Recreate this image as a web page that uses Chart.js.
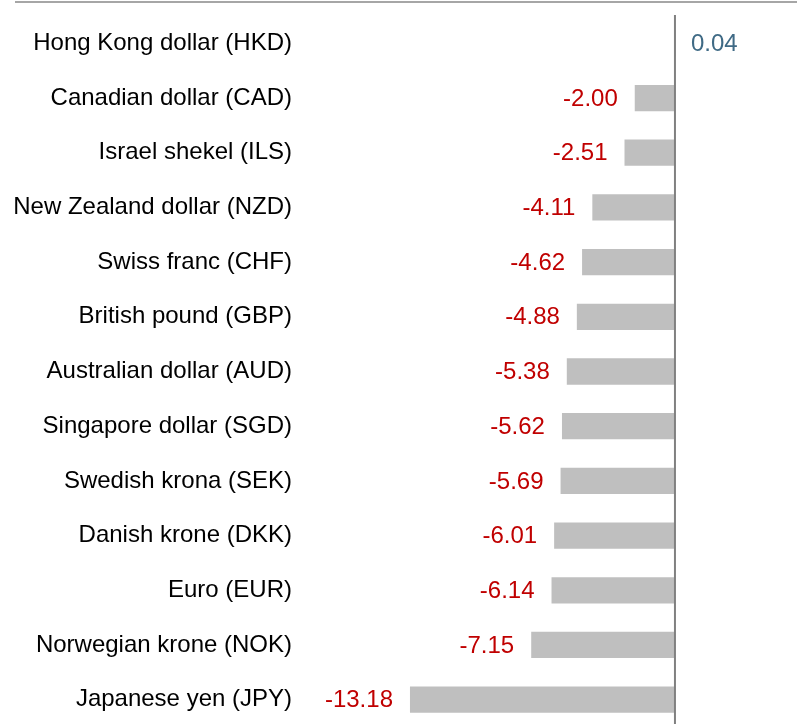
<!DOCTYPE html>
<html>
<head>
<meta charset="utf-8">
<script src="https://cdn.jsdelivr.net/npm/chart.js@4"></script>
<style>
  html, body { margin: 0; padding: 0; background: #fff; overflow: hidden; }
  #wrap { width: 797px; height: 727px; position: relative; }
</style>
</head>
<body>
<div id="wrap"><canvas id="fxChart"></canvas></div>
<script>
var currencies = [
    'Hong Kong dollar (HKD)', 'Canadian dollar (CAD)', 'Israel shekel (ILS)',
    'New Zealand dollar (NZD)', 'Swiss franc (CHF)', 'British pound (GBP)',
    'Australian dollar (AUD)', 'Singapore dollar (SGD)', 'Swedish krona (SEK)',
    'Danish krone (DKK)', 'Euro (EUR)', 'Norwegian krone (NOK)', 'Japanese yen (JPY)'
];
var changes = [0.04, -2.00, -2.51, -4.11, -4.62, -4.88, -5.38, -5.62, -5.69, -6.01, -6.14, -7.15, -13.18];
var xMin = -18.65;
var xMax = 6.07;

var decorations = {
    id: 'decorations',
    afterDatasetsDraw: function (chart) {
        var ctx = chart.ctx;
        var x = chart.scales.x;
        var area = chart.chartArea;
        var meta = chart.getDatasetMeta(0);
        var zero = x.getPixelForValue(0);
        ctx.save();
        // top rule
        ctx.strokeStyle = '#a6a6a6';
        ctx.lineWidth = 2;
        ctx.beginPath();
        ctx.moveTo(15, 2);
        ctx.lineTo(chart.width, 2);
        ctx.stroke();
        // zero line
        ctx.strokeStyle = '#808080';
        ctx.beginPath();
        ctx.moveTo(zero, area.top - 1);
        ctx.lineTo(zero, chart.height);
        ctx.stroke();
        // value labels
        ctx.font = '24px "Liberation Sans", Arial, sans-serif';
        ctx.textBaseline = 'middle';
        meta.data.forEach(function (bar, i) {
            var v = changes[i];
            var txt = v.toFixed(2);
            if (v < 0) {
                ctx.fillStyle = '#c00000';
                ctx.textAlign = 'right';
                ctx.fillText(txt, bar.x - 17, bar.y + 1);
            } else {
                ctx.fillStyle = '#3f6a85';
                ctx.textAlign = 'left';
                ctx.fillText(txt, zero + 16, bar.y + 1);
            }
        });
        ctx.restore();
    }
};

new Chart(document.getElementById('fxChart').getContext('2d'), {
    type: 'bar',
    data: {
        labels: currencies,
        datasets: [{
            data: changes,
            backgroundColor: '#bfbfbf',
            barPercentage: 0.48,
            categoryPercentage: 1.0
        }]
    },
    options: {
        indexAxis: 'y',
        responsive: true,
        maintainAspectRatio: false,
        animation: false,
        layout: { padding: { top: 16, bottom: 0, left: 0, right: 0 } },
        plugins: {
            legend: { display: false },
            tooltip: { enabled: false }
        },
        scales: {
            x: {
                min: xMin,
                max: xMax,
                display: false
            },
            y: {
                grid: { display: false, drawTicks: false },
                border: { display: false },
                afterFit: function (axis) {
                    axis.width = 300;
                    axis.paddingTop = 0;
                    axis.paddingBottom = 0;
                },
                ticks: {
                    color: '#000',
                    padding: 8,
                    font: { family: '"Liberation Sans", Arial, sans-serif', size: 24 }
                }
            }
        }
    },
    plugins: [decorations]
});
</script>
</body>
</html>
